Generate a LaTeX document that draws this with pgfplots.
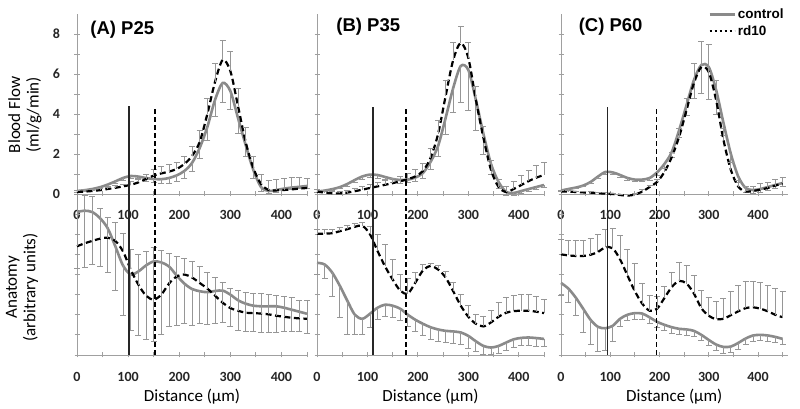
\documentclass[border=0pt]{standalone}
\usepackage{pgfplots}
\pgfplotsset{compat=1.18}
\usepackage{pgfplotstable}
\usepackage{fontspec}
\setmainfont{Carlito}
\newfontfamily\arialf{Liberation Sans}
\definecolor{ctrl}{RGB}{138,138,138}
\definecolor{errc}{RGB}{150,150,150}
\definecolor{axc}{RGB}{160,160,160}

% ---------- data: x  y  err ----------
\pgfplotstableread{
x y e
0 0.15 0.05
15 0.19 0.05
30 0.25 0.06
45 0.34 0.07
60 0.47 0.08
75 0.63 0.1
90 0.8 0.12
105 0.9 0.13
120 0.87 0.13
135 0.8 0.15
150 0.75 0.18
165 0.74 0.2
180 0.8 0.25
195 0.93 0.3
210 1.15 0.35
225 1.55 0.4
240 2.3 0.5
255 3.35 0.65
270 4.7 0.8
285 5.55 0.95
300 5.15 0.9
315 3.8 0.75
330 2.45 0.55
345 1.2 0.4
360 0.35 0.2
375 0.15 0.1
390 0.2 0.1
405 0.27 0.1
420 0.32 0.1
435 0.36 0.1
450 0.4 0.1
}\Atc
\pgfplotstableread{
x y e
0 0.1 0.1
15 0.12 0.1
30 0.15 0.1
45 0.19 0.1
60 0.25 0.1
75 0.31 0.12
90 0.38 0.12
105 0.46 0.15
120 0.58 0.18
135 0.75 0.25
150 0.92 0.3
165 1.03 0.35
180 1.12 0.35
195 1.25 0.35
210 1.5 0.4
225 1.9 0.5
240 2.6 0.6
255 4.0 0.8
270 5.6 0.95
285 6.7 1.0
300 6.15 1.0
315 4.4 0.9
330 2.6 0.75
345 1.3 0.6
360 0.5 0.5
375 0.2 0.5
390 0.18 0.55
405 0.2 0.6
420 0.23 0.6
435 0.27 0.55
450 0.3 0.5
}\Atr
\pgfplotstableread{
x y e
0 7.1 2.8
15 7.17 2.8
30 7.1 2.6
45 6.8 2.4
60 6.3 2.2
75 5.4 2.2
90 4.45 2.5
105 4.0 2.8
120 4.15 3.2
135 4.45 3.7
150 4.65 4.0
165 4.6 3.6
180 4.4 3.0
195 3.95 2.5
210 3.55 2.0
225 3.28 1.8
240 3.17 1.6
255 3.12 1.6
270 3.18 1.6
285 3.2 1.6
300 3.0 1.6
315 2.72 1.5
330 2.55 1.4
345 2.45 1.3
360 2.42 1.3
375 2.42 1.3
390 2.42 1.3
405 2.35 1.2
420 2.25 1.1
435 2.15 1.0
450 2.05 1.0
}\Abc
\pgfplotstableread{
x y e
0 5.4 2.6
15 5.55 2.4
30 5.67 2.2
45 5.78 1.5
60 5.83 1.0
75 5.67 0.9
90 5.15 0.9
105 4.25 1.0
120 3.5 1.5
135 2.95 2.2
150 2.75 2.6
165 3.0 2.2
180 3.55 1.5
195 3.9 1.0
210 4.0 0.8
225 3.85 0.8
240 3.58 0.8
255 3.3 0.8
270 2.95 0.9
285 2.6 1.0
300 2.33 1.0
315 2.2 1.0
330 2.1 1.0
345 2.08 1.0
360 2.06 1.0
375 2.02 1.0
390 1.95 1.0
405 1.9 1.0
420 1.85 1.0
435 1.82 0.9
450 1.8 0.9
}\Abr
\pgfplotstableread{
x y e
0 0.12 0.05
15 0.17 0.05
30 0.24 0.06
45 0.34 0.07
60 0.5 0.1
75 0.7 0.12
90 0.88 0.15
105 0.97 0.15
120 0.95 0.15
135 0.85 0.15
150 0.75 0.15
165 0.7 0.15
180 0.72 0.15
195 0.82 0.2
210 1.05 0.25
225 1.6 0.35
240 2.4 0.5
255 3.8 0.8
270 5.3 1.2
285 6.4 1.8
300 6.2 2.0
315 4.7 1.5
330 3.0 1.0
345 1.5 0.5
360 0.6 0.3
375 0.1 0.15
390 0.05 0.1
405 0.15 0.1
420 0.25 0.1
435 0.35 0.1
450 0.45 0.1
}\Btc
\pgfplotstableread{
x y e
0 0.12 0.1
15 0.07 0.1
30 0.04 0.1
45 0.03 0.1
60 0.07 0.1
75 0.14 0.12
90 0.22 0.15
105 0.3 0.2
120 0.38 0.2
135 0.46 0.25
150 0.54 0.25
165 0.64 0.25
180 0.74 0.3
195 0.88 0.35
210 1.15 0.4
225 1.8 0.5
240 3.0 0.7
255 4.9 0.8
270 6.7 0.9
285 7.55 0.85
300 6.8 0.8
315 4.7 0.7
330 2.8 0.6
345 1.2 0.5
360 0.35 0.4
375 0.1 0.3
390 0.25 0.4
405 0.45 0.5
420 0.65 0.55
435 0.82 0.6
450 0.95 0.65
}\Btr
\pgfplotstableread{
x y e
0 4.58 0.6
15 4.5 0.7
30 4.1 1.2
45 3.45 1.6
60 2.7 1.7
75 2.0 1.0
90 1.8 0.8
105 2.05 0.7
120 2.35 0.6
135 2.5 0.6
150 2.45 0.6
165 2.3 0.6
180 2.0 0.6
195 1.75 0.6
210 1.55 0.6
225 1.38 0.6
240 1.27 0.6
255 1.2 0.6
270 1.17 0.6
285 1.12 0.6
300 0.95 0.6
315 0.68 0.5
330 0.45 0.4
345 0.37 0.35
360 0.45 0.35
375 0.62 0.4
390 0.78 0.4
405 0.85 0.4
420 0.87 0.4
435 0.84 0.4
450 0.8 0.4
}\Bbc
\pgfplotstableread{
x y e
0 6.03 0.2
15 6.03 0.2
30 6.05 0.2
45 6.15 0.2
60 6.25 0.2
75 6.37 0.15
90 6.42 0.15
105 6.0 0.4
120 5.17 0.8
135 4.4 1.1
150 3.75 1.0
165 3.2 0.8
180 3.05 0.75
195 3.6 0.5
210 4.2 0.3
225 4.42 0.15
240 4.25 0.2
255 3.85 0.3
270 3.17 0.45
285 2.45 0.55
300 1.9 0.55
315 1.55 0.45
330 1.42 0.5
345 1.62 0.6
360 1.9 0.7
375 2.1 0.75
390 2.18 0.8
405 2.2 0.8
420 2.2 0.8
435 2.15 0.75
450 2.08 0.7
}\Bbr
\pgfplotstableread{
x y e
0 0.17 0.05
15 0.25 0.05
30 0.32 0.05
45 0.42 0.05
60 0.6 0.08
75 0.87 0.1
90 1.1 0.12
105 1.08 0.12
120 0.95 0.1
135 0.8 0.1
150 0.72 0.1
165 0.72 0.1
180 0.8 0.12
195 1.08 0.15
210 1.5 0.2
225 2.1 0.25
240 3.2 0.35
255 4.45 0.5
270 5.7 0.9
285 6.45 1.4
300 6.35 1.6
315 5.2 1.2
330 3.55 0.6
345 2.0 0.4
360 0.87 0.3
375 0.3 0.2
390 0.2 0.15
405 0.25 0.15
420 0.35 0.15
435 0.45 0.15
450 0.55 0.15
}\Ctc
\pgfplotstableread{
x y e
0 0.12 0.05
15 0.12 0.05
30 0.1 0.05
45 0.08 0.05
60 0.07 0.05
75 0.04 0.05
90 0.02 0.05
105 0.0 0.05
120 -0.05 0.05
135 -0.08 0.05
150 -0.03 0.05
165 0.12 0.1
180 0.35 0.1
195 0.6 0.15
210 1.1 0.2
225 1.85 0.25
240 2.87 0.4
255 4.2 0.6
270 5.55 1.0
285 6.35 1.3
300 6.1 1.4
315 4.7 1.0
330 2.7 0.6
345 1.2 0.4
360 0.37 0.3
375 0.12 0.25
390 0.15 0.25
405 0.22 0.3
420 0.3 0.3
435 0.42 0.3
450 0.53 0.3
}\Ctr
\pgfplotstableread{
x y e
0 3.58 0.6
15 3.3 0.7
30 2.85 0.9
45 2.3 1.2
60 1.75 1.25
75 1.4 1.2
90 1.33 1.1
105 1.45 0.8
120 1.8 0.4
135 2.0 0.3
150 2.08 0.3
165 2.06 0.3
180 1.87 0.3
195 1.65 0.3
210 1.5 0.3
225 1.38 0.3
240 1.3 0.3
255 1.27 0.3
270 1.2 0.3
285 1.0 0.3
300 0.75 0.3
315 0.52 0.3
330 0.4 0.3
345 0.42 0.3
360 0.6 0.3
375 0.82 0.3
390 0.97 0.3
405 1.0 0.3
420 0.97 0.3
435 0.9 0.3
450 0.8 0.3
}\Cbc
\pgfplotstableread{
x y e
0 5.0 0.75
15 4.95 0.75
30 4.92 0.75
45 4.92 0.75
60 4.98 0.8
75 5.12 0.85
90 5.35 0.9
105 5.3 1.0
120 4.75 1.2
135 3.95 1.3
150 3.17 1.4
165 2.55 1.0
180 2.2 0.75
195 2.3 0.6
210 2.83 0.6
225 3.38 0.7
240 3.68 0.9
255 3.55 0.9
270 3.05 0.9
285 2.33 0.9
300 1.95 0.9
315 1.78 0.9
330 1.8 1.0
345 1.98 1.2
360 2.17 1.3
375 2.33 1.3
390 2.37 1.3
405 2.3 1.3
420 2.17 1.3
435 2.0 1.3
450 1.88 1.3
}\Cbr

\pgfplotsset{
  panel/.style={scale only axis, xmin=0, xmax=450, clip=false,
    axis x line*=bottom, axis y line*=left,
    axis line style={draw=axc, line width=0.9pt},
    every tick/.style={draw=axc, line width=0.9pt},
    tick align=center, major tick length=5pt, minor tick length=5pt,
    xtick={0,100,200,300,400}, minor xtick={50,150,250,350,450},
    /pgf/number format/assume math mode=true,
    ticklabel style={font=\bfseries\fontsize{14}{14}\selectfont, text=black!85},
    yticklabel style={anchor=center, xshift=-18pt},
  },
  toprow/.style={panel, ymin=0, ymax=9, height=180pt,
    ytick={0,2,4,6,8}, minor ytick={1,3,5,7},
    xticklabel style={anchor=center, yshift=-18pt}},
  botrow/.style={panel, ymin=0, ymax=8, height=161pt,
    ytick={0,1,2,3,4,5,6,7,8}, yticklabels={},
    xticklabel style={anchor=center, yshift=-19pt},
    xlabel={Distance (μm)},
    xlabel style={font=\fontsize{17}{19}\selectfont, at={(axis description cs:0.5,-0.26)}, anchor=center}},
  ctrlline/.style={ctrl, line width=2.6pt, smooth,
    /pgfplots/error bars/y dir=minus, /pgfplots/error bars/y explicit,
    /pgfplots/error bars/error bar style={errc, line width=0.9pt, solid},
    /pgfplots/error bars/error mark options={errc, line width=0.9pt, mark size=3pt, solid, rotate=90}},
  rdline/.style={black, line width=2.2pt, dash pattern=on 6pt off 3.5pt, smooth,
    /pgfplots/error bars/y dir=plus, /pgfplots/error bars/y explicit,
    /pgfplots/error bars/error bar style={errc, line width=0.9pt, solid},
    /pgfplots/error bars/error mark options={errc, line width=0.9pt, mark size=3pt, solid, rotate=90}},
  vsolid/.style={black!85, line width=1.4pt},
  vdash/.style={black, line width=1.6pt, dash pattern=on 5pt off 3pt},
}
\tikzset{ttl/.style={anchor=west, font=\arialf\bfseries\fontsize{18.5}{20}\selectfont}}

\begin{document}
\begin{tikzpicture}
\path[use as bounding box] (0,0) rectangle (800pt,409pt);

% ===== A =====
\begin{axis}[toprow, width=230pt, at={(77pt,215pt)}, anchor=south west,
  ylabel={Blood Flow\\(ml/g/min)},
  ylabel style={align=center, font=\fontsize{17}{18.5}\selectfont, at={(axis description cs:-0.226,0.44)}, anchor=center}]
\addplot[ctrlline] table[x=x, y=y, y error=e] {\Atc};
\addplot[rdline] table[x=x, y=y, y error=e] {\Atr};
\addplot[vsolid] coordinates {(102,0) (102,4.4)};
\addplot[vdash] coordinates {(153,0) (153,4.4)};
\node[ttl] at (axis description cs:0.043,0.91) {(A) P25};
\end{axis}
\begin{axis}[botrow, width=230pt, at={(77pt,54pt)}, anchor=south west,
  ylabel={Anatomy\\(arbitrary units)},
  ylabel style={align=center, font=\fontsize{17}{18.5}\selectfont, at={(axis description cs:-0.239,0.42)}, anchor=center}]
\addplot[ctrlline] table[x=x, y=y, y error=e] {\Abc};
\addplot[rdline] table[x=x, y=y, y error=e] {\Abr};
\addplot[vsolid] coordinates {(102,0) (102,8)};
\addplot[vdash] coordinates {(153,0) (153,8)};
\end{axis}

% ===== B =====
\begin{axis}[toprow, width=227pt, at={(317pt,215pt)}, anchor=south west, yticklabels={}]
\addplot[ctrlline] table[x=x, y=y, y error=e] {\Btc};
\addplot[rdline] table[x=x, y=y, y error=e] {\Btr};
\addplot[vsolid] coordinates {(111,0) (111,4.35)};
\addplot[vdash] coordinates {(176,0) (176,4.35)};
\node[ttl] at (axis description cs:0.07,0.93) {(B) P35};
\end{axis}
\begin{axis}[botrow, width=227pt, at={(317pt,54pt)}, anchor=south west]
\addplot[ctrlline] table[x=x, y=y, y error=e] {\Bbc};
\addplot[rdline] table[x=x, y=y, y error=e] {\Bbr};
\addplot[vsolid] coordinates {(111,0) (111,8)};
\addplot[vdash] coordinates {(176,0) (176,8)};
\end{axis}

% ===== C =====
\begin{axis}[toprow, width=226.5pt, xmax=460, at={(561pt,215pt)}, anchor=south west, yticklabels={},
  legend style={draw=none, fill=none, at={(axis description cs:0.649,1.04)}, anchor=north west,
    font=\arialf\bfseries\fontsize{13.5}{14}\selectfont, inner sep=0pt, row sep=1pt},
  legend cell align=left,
  legend image code/.code={\draw[#1] (0pt,0pt) -- (25pt,0pt);}]
\addlegendimage{ctrl, line width=2.6pt}
\addlegendentry{control}
\addlegendimage{black, line width=2.6pt, dash pattern=on 2.5pt off 2.5pt}
\addlegendentry{rd10}
\addplot[ctrlline, forget plot] table[x=x, y=y, y error=e] {\Ctc};
\addplot[rdline, forget plot] table[x=x, y=y, y error=e] {\Ctr};
\addplot[vsolid, forget plot] coordinates {(94,0) (94,4.35)};
\addplot[vdash, forget plot] coordinates {(194,0) (194,4.35)};
\node[ttl] at (axis description cs:0.063,0.93) {(C) P60};
\end{axis}
\begin{axis}[botrow, width=226.5pt, xmax=460, at={(561pt,54pt)}, anchor=south west]
\addplot[ctrlline] table[x=x, y=y, y error=e] {\Cbc};
\addplot[rdline] table[x=x, y=y, y error=e] {\Cbr};
\addplot[vsolid] coordinates {(94,0) (94,8)};
\addplot[vdash] coordinates {(194,0) (194,8)};
\end{axis}
\end{tikzpicture}
\end{document}
